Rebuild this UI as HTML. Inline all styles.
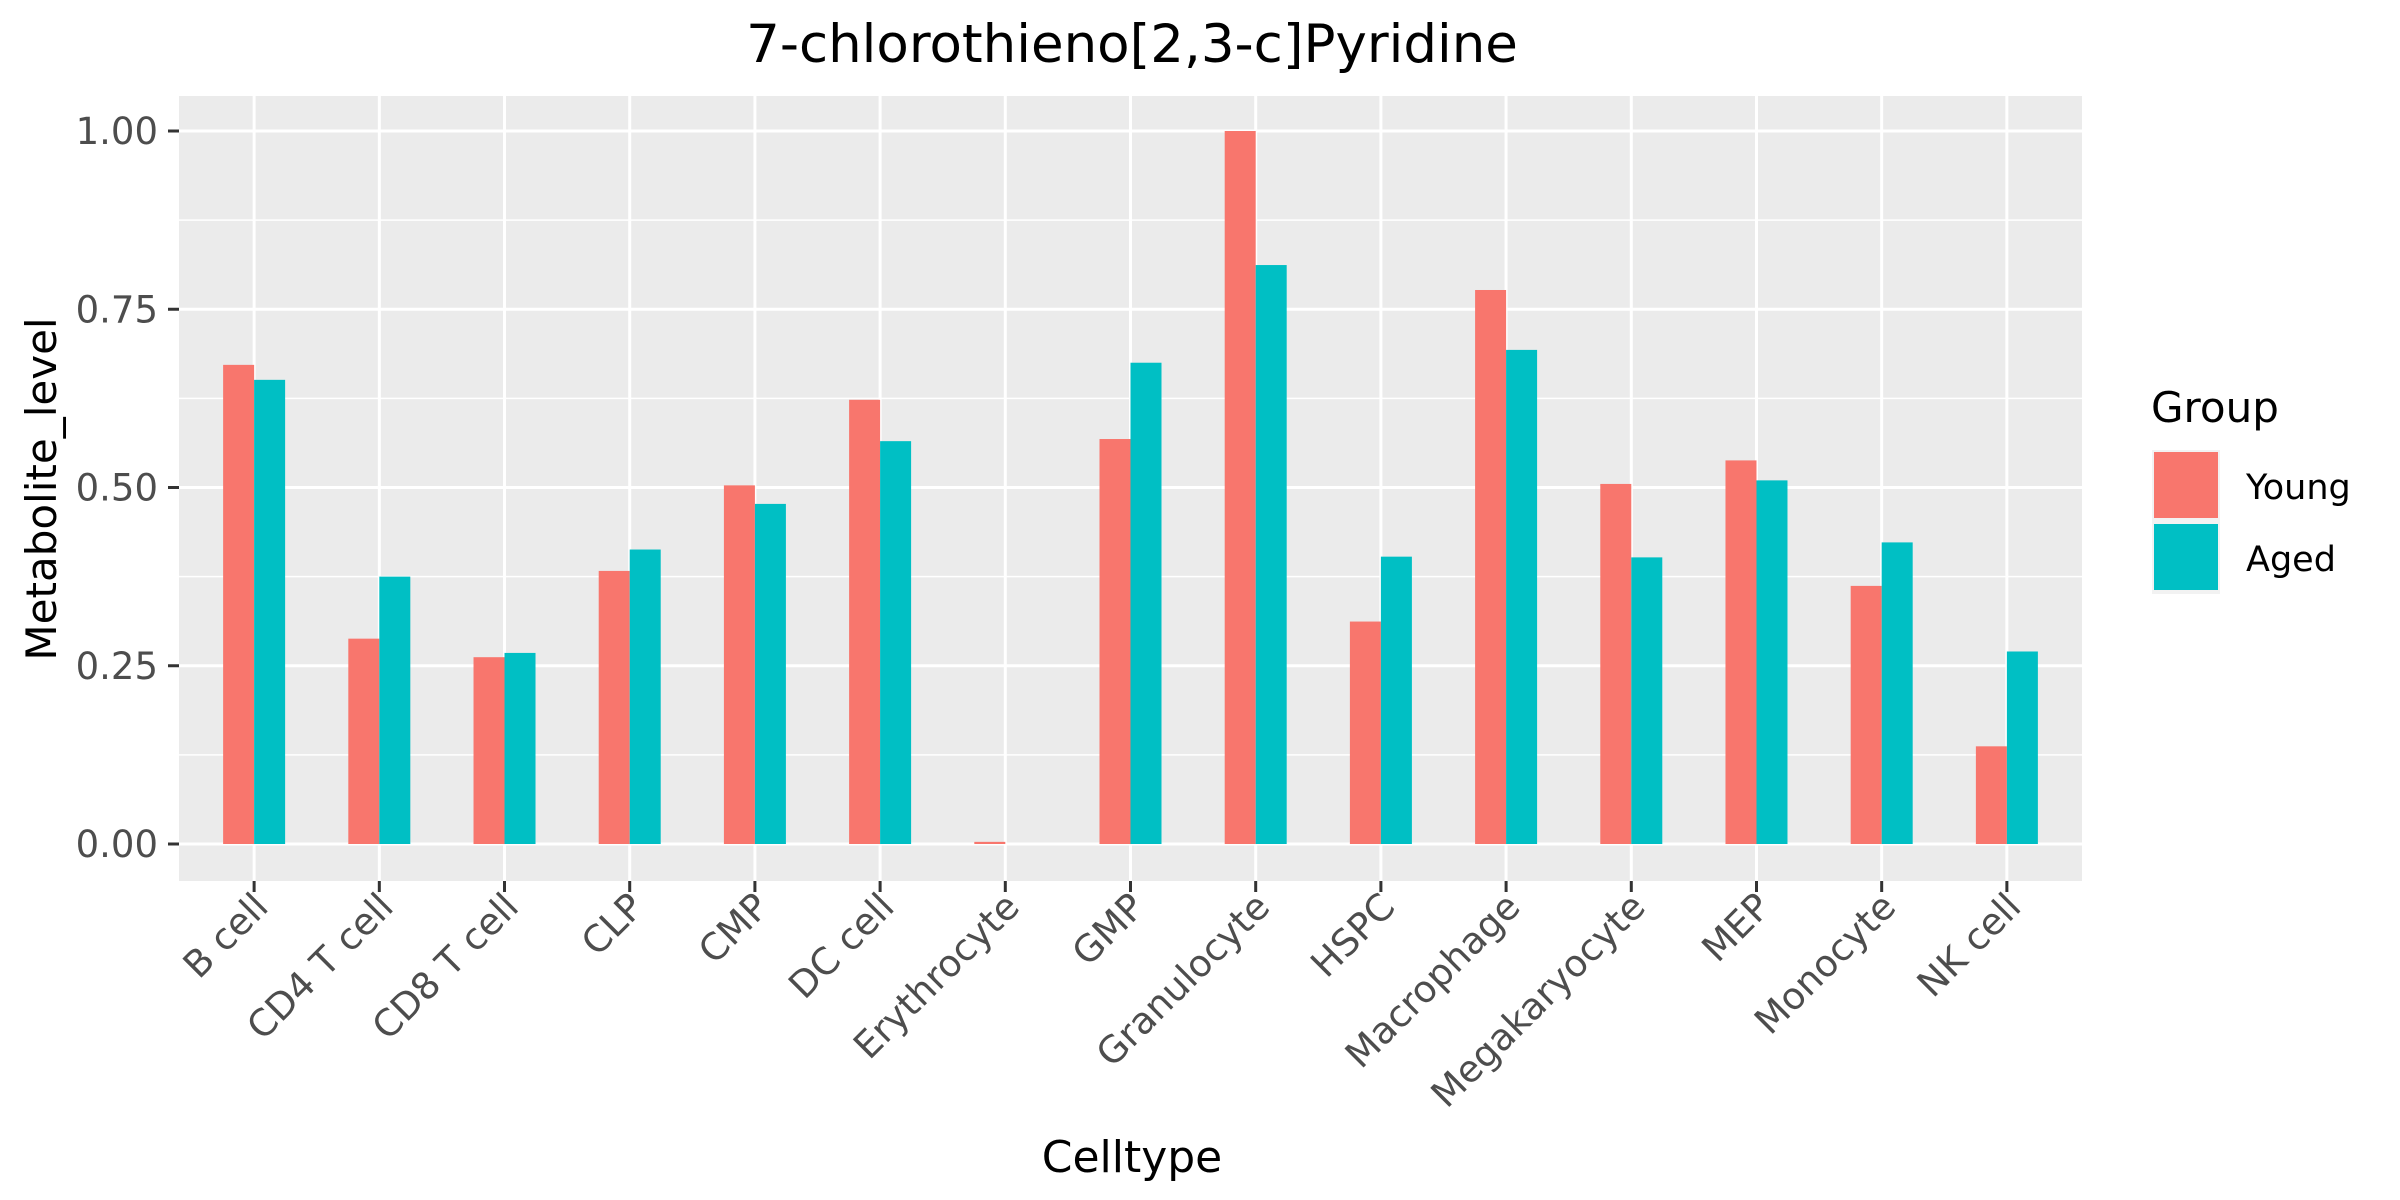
<!DOCTYPE html>
<html><head><meta charset="utf-8"><style>
html,body{margin:0;padding:0;background:#fff;}
svg{display:block;font-family:"DejaVu Sans","Liberation Sans",sans-serif;}
</style></head><body>
<svg id="chart" width="2400" height="1200" viewBox="0 0 2400 1200">
<rect x="0" y="0" width="2400" height="1200" fill="#fff"/>
<text x="1132" y="62" font-size="53" text-anchor="middle" fill="#000">7-chlorothieno[2,3-c]Pyridine</text>
<rect x="179" y="96" width="1903" height="785" fill="#ebebeb"/>
<g id="grid"></g>
<g id="bars"></g>
<g id="axes"></g>
<text x="1132" y="1172" font-size="44" text-anchor="middle" fill="#000">Celltype</text>
<text transform="translate(56,489) rotate(-90)" font-size="42" text-anchor="middle" fill="#000">Metabolite_level</text>
<g>
<text x="2151" y="422" font-size="42" fill="#000">Group</text>
<rect x="2152" y="450" width="68" height="72" fill="#f2f2f2"/>
<rect x="2154" y="452" width="64" height="66" fill="#F8766D"/>
<text x="2246" y="499" font-size="35" fill="#000">Young</text>
<rect x="2152" y="522" width="68" height="72" fill="#f2f2f2"/>
<rect x="2154" y="524" width="64" height="66" fill="#00BFC4"/>
<text x="2246" y="571" font-size="35" fill="#000">Aged</text>
</g>
</svg>
<script>
const categories = ["B cell","CD4 T cell","CD8 T cell","CLP","CMP","DC cell","Erythrocyte","GMP","Granulocyte","HSPC","Macrophage","Megakaryocyte","MEP","Monocyte","NK cell"];
const young = [0.672,0.288,0.262,0.383,0.503,0.623,0.003,0.568,1.0,0.312,0.777,0.505,0.538,0.362,0.137];
const aged = [0.651,0.375,0.268,0.413,0.477,0.565,0,0.675,0.812,0.403,0.693,0.402,0.510,0.423,0.270];
const yTicks = [0,0.25,0.5,0.75,1.0];
const yTickLabels = ["0.00","0.25","0.50","0.75","1.00"];

const NS="http://www.w3.org/2000/svg";
const pL=179,pR=2082,pT=96,pB=881;
const step=(pR-pL)/(categories.length-1+1.2);
function xScale(i){return pL+(0.6+i)*step;}
const y0=844,y1=131;
function yScale(v){return y0-(y0-y1)*v;}
function mk(tag,attrs,parent){const e=document.createElementNS(NS,tag);for(const k in attrs)e.setAttribute(k,attrs[k]);parent.appendChild(e);return e;}
const grid=document.getElementById('grid'),bars=document.getElementById('bars'),axes=document.getElementById('axes');
for(let i=0;i<yTicks.length-1;i++){
  const v=(yTicks[i]+yTicks[i+1])/2;
  const l=mk('line',{x1:pL,x2:pR,y1:yScale(v),y2:yScale(v),stroke:'#fff','stroke-width':1.5},grid);
  
  
}
yTicks.forEach((v,i)=>{
  const y=yScale(v);
  const l=mk('line',{x1:pL,x2:pR,y1:y,y2:y,stroke:'#fff','stroke-width':3},grid);
  
  
  const t=mk('line',{x1:168,x2:179,y1:y,y2:y,stroke:'#333','stroke-width':3},axes);
  
  
  const tx=mk('text',{x:158,y:y+13,'font-size':37,'text-anchor':'end',fill:'#4d4d4d'},axes);
  tx.textContent=yTickLabels[i];
  
  
});
const bw=31;
categories.forEach((c,i)=>{
  const x=xScale(i);
  const g=mk('line',{x1:x,x2:x,y1:pT,y2:pB,stroke:'#fff','stroke-width':3},grid);
  
  
  const ry=yScale(young[i]);
  const r1=mk('rect',{x:x-bw,y:ry,width:bw,height:y0-ry,fill:'#F8766D'},bars);
  
  
  const ay=yScale(aged[i]);
  const r2=mk('rect',{x:x,y:ay,width:bw,height:y0-ay,fill:'#00BFC4'},bars);
  
  
  const t=mk('line',{x1:x,x2:x,y1:pB,y2:pB+11,stroke:'#333','stroke-width':3},axes);
  
  
  const tx=mk('text',{transform:`translate(${x+16},${pB+28}) rotate(-45)`,'font-size':37,'text-anchor':'end',fill:'#4d4d4d'},axes);
  tx.textContent=c;
  
  
});
</script>
</body></html>
